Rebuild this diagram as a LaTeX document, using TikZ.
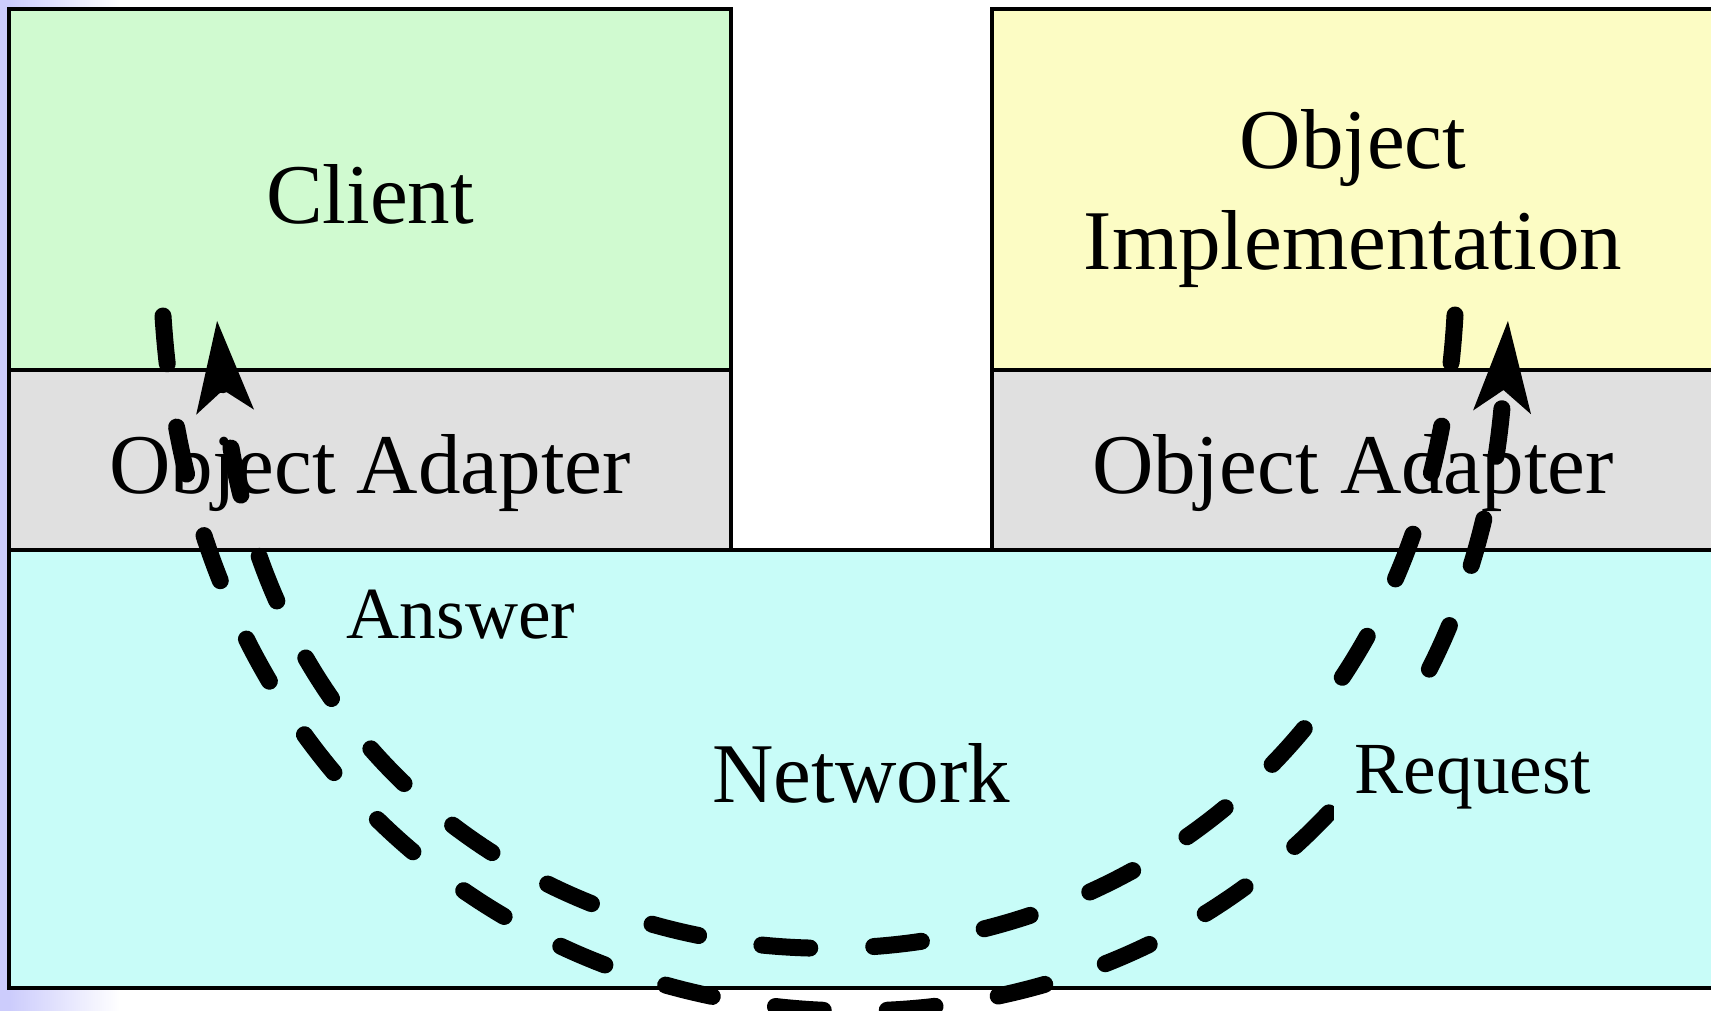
\documentclass[tikz,border=0pt]{standalone}
\usepackage{fontspec}
\setmainfont{Liberation Serif}
\usetikzlibrary{arrows.meta}

\definecolor{clientgreen}{RGB}{208,250,208}
\definecolor{objyellow}{RGB}{252,252,196}
\definecolor{adaptergray}{RGB}{224,224,224}
\definecolor{netcyan}{RGB}{200,252,248}
\definecolor{slideblue}{RGB}{204,204,252}

\newcommand{\layerfont}{\fontsize{48.4}{57.5}\selectfont}
\newcommand{\flowfont}{\fontsize{41.8}{50}\selectfont}

\begin{document}
\begin{tikzpicture}[x=0.02cm, y=-0.02cm,
		layer/.style={draw=black, line width=2pt, rectangle, anchor=north west, inner sep=0pt, outer sep=0pt, text height=1.36cm, text depth=0pt, font=\layerfont},
		flow/.style={line width=0.34cm, line cap=round, dash pattern=on 0.96cm off 1.28cm, -{Stealth[length=1.8cm, width=1.1cm, inset=0.4cm]}},
		flowlabel/.style={fill=netcyan, inner xsep=0.42cm, inner ysep=0.58cm, anchor=base, font=\flowfont}]
		\useasboundingbox (0,0) rectangle (1711,1011);
		\clip (0,0) rectangle (1711,1011);

		%slide background at the left edge
		\fill[slideblue] (0,0) rectangle (9,1011);
		\shade[left color=slideblue, right color=white] (9,0) rectangle (120,8);
		\shade[left color=slideblue, right color=white] (9,990) rectangle (120,1011);

		%layers, left column -> right column -> network
		\node[layer, fill=clientgreen, minimum width=14.44cm, minimum height=7.22cm] (client) at (9,9) {Client};
		\node[layer, fill=adaptergray, minimum width=14.44cm, minimum height=3.6cm] (adapterL) at (client.south west) {Object Adapter};
		\node[layer, fill=objyellow, minimum width=14.44cm, minimum height=7.22cm, align=center, text height={}, text depth={}] (impl) at (992,9) {\rule{0pt}{1.56cm}Object\\Implementation};
		\node[layer, fill=adaptergray, minimum width=14.44cm, minimum height=3.6cm] (adapterR) at (impl.south west) {Object Adapter};
		\node[layer, fill=netcyan, minimum width=34.1cm, minimum height=8.76cm] (network) at (adapterL.south west) {Network};

		%end points of the two flows
		\coordinate (clientout) at (163,316);
		\coordinate (implin) at (1508,320);
		\coordinate (implout) at (1455,315);
		\coordinate (clientin) at (217,320);

		\draw[flow] (clientout) .. controls (222,1229) and (1449,1233) .. (implin);
		\draw[flow] (implout) .. controls (1409,1145) and (290,1150) .. (clientin);

		\node[flowlabel] (answer) at (461,638) {Answer};
		\node[flowlabel] (request) at (1473,793) {Request};
	\end{tikzpicture}
\end{document}
